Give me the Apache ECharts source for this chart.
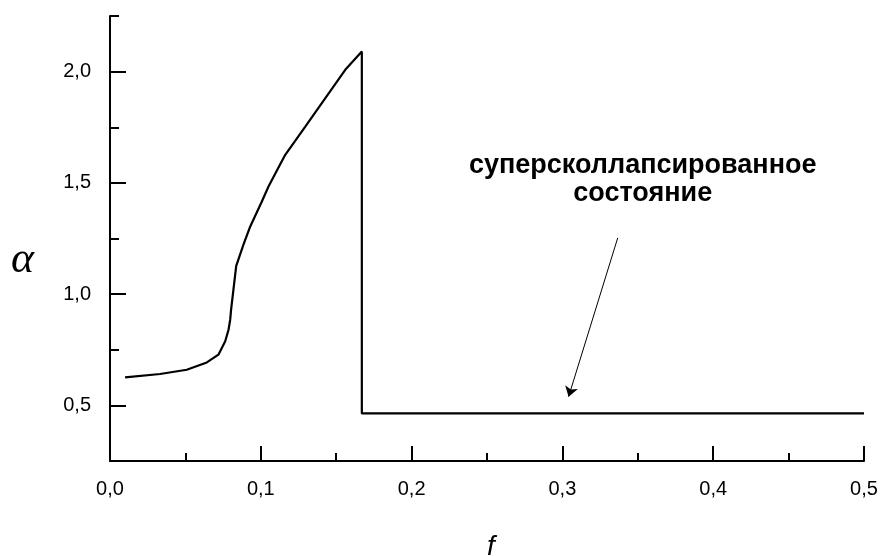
<!DOCTYPE html>
<html>
<head>
<meta charset="utf-8">
<script src="https://cdn.jsdelivr.net/npm/echarts@6/dist/echarts.min.js"></script>
<style>
  html, body { margin: 0; padding: 0; background: #fff; }
  #chart { width: 888px; height: 556px; }
</style>
</head>
<body>
<div id="chart"></div>
<script>
// Curve alpha(f): slow growth, steep rise near f = 0.08, jump down at f = 1/6,
// then the flat supercollapsed branch up to f = 0.5
const fValues = [0.0100, 0.0332, 0.0509, 0.0642, 0.0719, 0.0764, 0.0786, 0.0797, 0.0803, 0.0837,
                 0.0885, 0.0930, 0.1007, 0.1051, 0.1162, 0.1295, 0.1428, 0.1560, 0.1670, 0.1670, 0.5];
const alphaValues = [0.626, 0.641, 0.660, 0.693, 0.728, 0.788, 0.840, 0.885, 0.930, 1.127,
                     1.222, 1.304, 1.416, 1.484, 1.626, 1.753, 1.881, 2.008, 2.090, 0.464, 0.464];

// Axis ticks
const xMajorTicks = [0, 0.1, 0.2, 0.3, 0.4, 0.5];
const xMinorTicks = [0.05, 0.15, 0.25, 0.35, 0.45];
const yMajorTicks = [0.5, 1.0, 1.5, 2.0];
const yMinorTicks = [0.75, 1.25, 1.75, 2.25];

// Annotation text and its arrow (from, to) in data units
const noteText = 'суперсколлапсированное\nсостояние';
const arrowFrom = [0.3367, 1.253];
const arrowTo = [0.3041, 0.539];

const fmt = v => v.toFixed(1).replace('.', ',');
const black = '#000';
const sans = '"Liberation Sans", Arial, sans-serif';

const chart = echarts.init(document.getElementById('chart'), null, { renderer: 'canvas' });

chart.setOption({
  animation: false,
  backgroundColor: '#fff',
  grid: { left: 110, right: 24, top: 16, bottom: 95, containLabel: false, outerBoundsMode: 'none' },
  xAxis: [
    {
      type: 'value', min: 0, max: 0.5, position: 'bottom',
      name: 'f', nameLocation: 'middle', nameGap: 72,
      nameTextStyle: { color: black, fontFamily: sans, fontStyle: 'italic', fontSize: 28, padding: [0, 0, 0, 8] },
      axisLine: { show: true, lineStyle: { color: black, width: 2 } },
      axisTick: { show: true, inside: true, length: 15, lineStyle: { color: black, width: 2 }, customValues: xMajorTicks },
      axisLabel: { show: true, margin: 18, color: black, fontFamily: sans, fontSize: 20, formatter: fmt, customValues: xMajorTicks },
      splitLine: { show: false }
    },
    {
      type: 'value', min: 0, max: 0.5, position: 'bottom',
      axisLine: { show: false },
      axisTick: { show: true, inside: true, length: 8, lineStyle: { color: black, width: 2 }, customValues: xMinorTicks },
      axisLabel: { show: false },
      splitLine: { show: false }
    }
  ],
  yAxis: [
    {
      type: 'value', min: 0.25, max: 2.25, position: 'left',
      name: 'α', nameLocation: 'middle', nameGap: 76, nameRotate: 0,
      nameTextStyle: { color: black, fontFamily: '"Liberation Serif", "Times New Roman", serif', fontStyle: 'italic', fontSize: 44, verticalAlign: 'top', lineHeight: 44 },
      axisLine: { show: true, lineStyle: { color: black, width: 2 } },
      axisTick: { show: true, inside: true, length: 16, lineStyle: { color: black, width: 2 }, customValues: yMajorTicks },
      axisLabel: { show: true, margin: 19, color: black, fontFamily: sans, fontSize: 20, formatter: fmt, customValues: yMajorTicks },
      splitLine: { show: false }
    },
    {
      type: 'value', min: 0.25, max: 2.25, position: 'left',
      axisLine: { show: false },
      axisTick: { show: true, inside: true, length: 9, lineStyle: { color: black, width: 2 }, customValues: yMinorTicks },
      axisLabel: { show: false },
      splitLine: { show: false }
    }
  ],
  series: [
    {
      type: 'line',
      xAxisIndex: 0, yAxisIndex: 0,
      data: fValues.map((f, i) => [f, alphaValues[i]]),
      showSymbol: false,
      symbol: 'none',
      lineStyle: { color: black, width: 2.2 },
      z: 3,
      markLine: {
        silent: true,
        symbol: ['none', 'arrow'],
        symbolSize: 10,
        label: { show: false },
        emphasis: { disabled: true },
        lineStyle: { color: black, width: 1, type: 'solid' },
        data: [[{ coord: arrowFrom }, { coord: arrowTo }]]
      }
    }
  ],
  graphic: [
    {
      type: 'text',
      left: 469, top: 152,
      style: {
        text: noteText,
        x: 180,
        textAlign: 'center',
        fill: black,
        font: 'bold 27px "Liberation Sans", Arial, sans-serif',
        lineHeight: 28
      }
    }
  ]
});
</script>
</body>
</html>
